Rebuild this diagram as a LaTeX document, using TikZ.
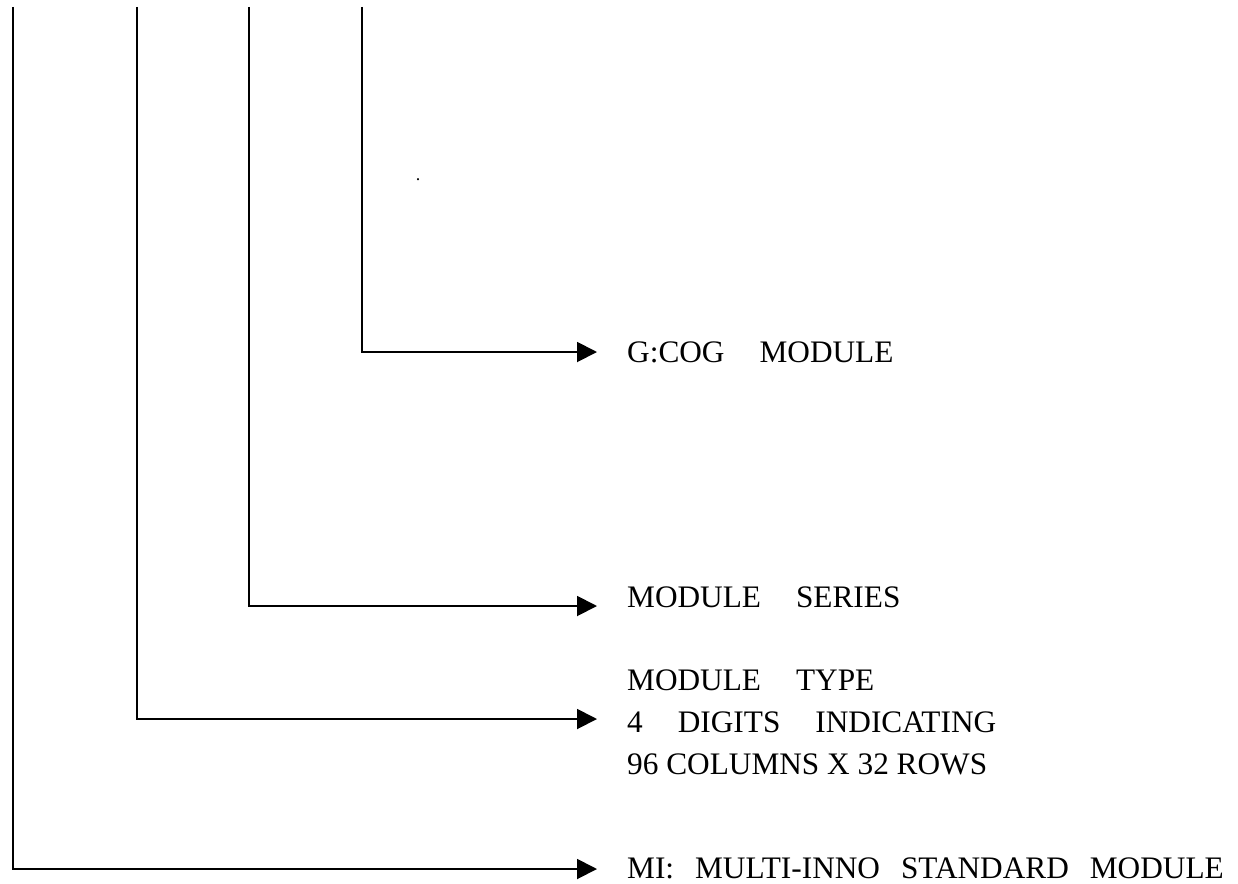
\documentclass[tikz,border=0pt]{standalone}
\usepackage{fontspec}
\setmainfont{Liberation Serif}
\usetikzlibrary{arrows.meta}
\newcommand\tabgap{\hspace{35pt}}
\newcommand\dgap{\hspace{21pt}}
\begin{document}
\begin{tikzpicture}[x=1pt,y=-1pt,
  conn/.style={line width=1.9pt, -{Triangle[length=20pt,width=20pt]}},
  lbl/.style={anchor=base west, inner sep=0pt, font=\fontsize{31.3}{41}\selectfont}]
\useasboundingbox (0,0) rectangle (1238,883);
% top ends of the vertical lines
\coordinate (t1) at (13,7);
\coordinate (t2) at (137,7);
\coordinate (t3) at (249,7);
\coordinate (t4) at (362,7);
% arrow tips
\coordinate (e1) at (597,869);
\coordinate (e2) at (597,719);
\coordinate (e3) at (597,606);
\coordinate (e4) at (597,352);
% labels
\node[lbl] (gcog) at (627,362) {G:COG\tabgap MODULE};
\node[lbl] (series) at (627,607) {MODULE\tabgap SERIES};
\node[lbl] (type1) at (627,690) {MODULE\tabgap TYPE};
\node[lbl] (type2) at (627,732) {4\tabgap DIGITS\tabgap INDICATING};
\node[lbl] (type3) at (627,774) {96 COLUMNS X 32 ROWS};
\node[lbl] (mi) at (627,878) {MI:\dgap MULTI-INNO\dgap STANDARD\dgap MODULE};
\node[inner sep=0pt, font=\fontsize{18}{18}\selectfont] (dot) at (418,180) {.};
% connectors
\draw[conn] (t1) |- (e1);
\draw[conn] (t2) |- (e2);
\draw[conn] (t3) |- (e3);
\draw[conn] (t4) |- (e4);
\end{tikzpicture}
\end{document}
